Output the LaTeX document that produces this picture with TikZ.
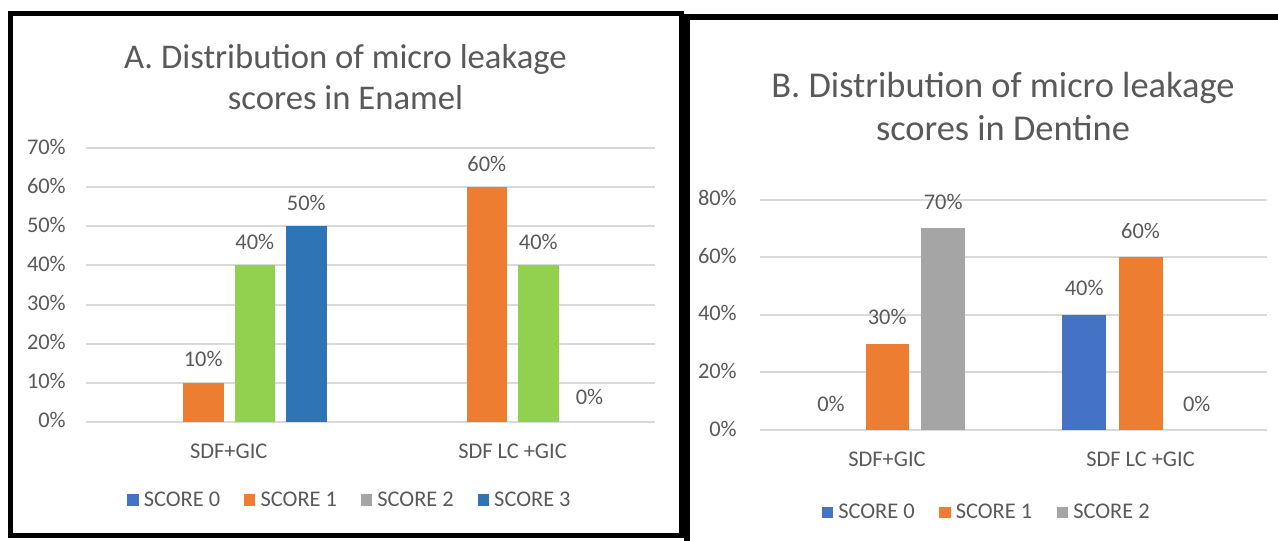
\documentclass[tikz,border=0pt]{standalone}
\usepackage{fontspec}
\setmainfont{Carlito}
\usepackage{tikz}
\usetikzlibrary{positioning}
\definecolor{scorezero}{HTML}{4472C4}
\definecolor{scoreone}{HTML}{ED7D31}
\definecolor{scoretwo}{HTML}{A5A5A5}
\definecolor{scorethree}{HTML}{2E75B6}
\definecolor{scoregreen}{HTML}{92D050}
\definecolor{txtgray}{HTML}{595959}
\definecolor{gridgray}{HTML}{D9D9D9}

\begin{document}
\begin{tikzpicture}[x=0.75pt, y=-0.75pt,
    lbl/.style={font=\fontsize{16.8}{20}\selectfont,
      text=txtgray,
      inner sep=0pt,
      text height=0.91em,
      text depth=0pt},
    ttl/.style={lbl, font=\fontsize{#1}{30}\selectfont, text height=0.64em},
    gridline/.style={draw=gridgray, line width=1.5pt},
    frame/.style={draw=black, line width=#1},
    key/.style={minimum size=8.5pt, inner sep=0pt}]

  \fill[white] (0,0) rectangle (1278,541);
  \useasboundingbox (0,0) rectangle (1278,541);

  % FRAMES

  \draw[frame=4.1pt] (10.5,13.5) rectangle (681.5,535.5);
  \draw[frame=4.5pt] (687,541) -- (687,17) -- (1278,17);

  % CHART A: ENAMEL

  \node[ttl=26] (titlea) at (345.5,64) {A. Distribution of micro leakage};
  \node[ttl=26] (titleasub) at (345.5,105) {scores in Enamel};

  \draw[gridline] (86,421.7) -- (655,421.7);
  \draw[gridline] (86,382.7) -- (655,382.7);
  \draw[gridline] (86,343.6) -- (655,343.6);
  \draw[gridline] (86,304.6) -- (655,304.6);
  \draw[gridline] (86,265.5) -- (655,265.5);
  \draw[gridline] (86,226.5) -- (655,226.5);
  \draw[gridline] (86,187.5) -- (655,187.5);
  \draw[gridline] (86,148.4) -- (655,148.4);

  \node[lbl, anchor=east] (ya0) at (66,421.7) {0\%};
  \node[lbl, anchor=east] (ya10) at (66,382.7) {10\%};
  \node[lbl, anchor=east] (ya20) at (66,343.6) {20\%};
  \node[lbl, anchor=east] (ya30) at (66,304.6) {30\%};
  \node[lbl, anchor=east] (ya40) at (66,265.5) {40\%};
  \node[lbl, anchor=east] (ya50) at (66,226.5) {50\%};
  \node[lbl, anchor=east] (ya60) at (66,187.5) {60\%};
  \node[lbl, anchor=east] (ya70) at (66,148.4) {70\%};

  \fill[scoreone] (183,421.7) rectangle (223.5,382.7);
  \fill[scoregreen] (234.5,421.7) rectangle (275,265.5);
  \fill[scorethree] (286,421.7) rectangle (326.5,226.5);
  \fill[scoreone] (466.5,421.7) rectangle (507,187.5);
  \fill[scoregreen] (518,421.7) rectangle (558.5,265.5);

  \node[lbl] (aonescoreone) at (203.25,360.7) {10\%};
  \node[lbl] (aonescoretwo) at (254.75,243.5) {40\%};
  \node[lbl] (aonescorethree) at (306.25,204.5) {50\%};
  \node[lbl] (atwoscoreone) at (486.75,165.5) {60\%};
  \node[lbl] (atwoscoretwo) at (538.25,243.5) {40\%};
  \node[lbl] (atwoscorethree) at (589.5,398.5) {0\%};

  \node[lbl] (acatone) at (228.75,452) {SDF+GIC};
  \node[lbl] (acattwo) at (512.5,452) {SDF LC +GIC};

  \node[key, fill=scorezero] (akeyzero) at (133,500) {};
  \node[lbl, right=3.5pt of akeyzero] (akeyzerotext) {SCORE 0};
  \node[key, fill=scoreone, right=17.5pt of akeyzerotext] (akeyone) {};
  \node[lbl, right=3.5pt of akeyone] (akeyonetext) {SCORE 1};
  \node[key, fill=scoretwo, right=17.5pt of akeyonetext] (akeytwo) {};
  \node[lbl, right=3.5pt of akeytwo] (akeytwotext) {SCORE 2};
  \node[key, fill=scorethree, right=17.5pt of akeytwotext] (akeythree) {};
  \node[lbl, right=3.5pt of akeythree] (akeythreetext) {SCORE 3};

  % CHART B: DENTINE

  \node[ttl=27.3] (titleb) at (1003,93) {B. Distribution of micro leakage};
  \node[ttl=27.3] (titlebsub) at (1003,136.4) {scores in Dentine};

  \draw[gridline] (760,430) -- (1267,430);
  \draw[gridline] (760,372.4) -- (1267,372.4);
  \draw[gridline] (760,314.8) -- (1267,314.8);
  \draw[gridline] (760,257.2) -- (1267,257.2);
  \draw[gridline] (760,199.6) -- (1267,199.6);

  \node[lbl, anchor=east] (yb0) at (737,430) {0\%};
  \node[lbl, anchor=east] (yb20) at (737,372.4) {20\%};
  \node[lbl, anchor=east] (yb40) at (737,314.8) {40\%};
  \node[lbl, anchor=east] (yb60) at (737,257.2) {60\%};
  \node[lbl, anchor=east] (yb80) at (737,199.6) {80\%};

  \fill[scoreone] (865.5,430) rectangle (909,343.6);
  \fill[scoretwo] (921,430) rectangle (965.3,228.4);
  \fill[scorezero] (1062.3,430) rectangle (1106,314.8);
  \fill[scoreone] (1118.5,430) rectangle (1162.5,257.2);

  \node[lbl] (bonescorezero) at (831,405.5) {0\%};
  \node[lbl] (bonescoreone) at (887.2,318) {30\%};
  \node[lbl] (bonescoretwo) at (943.2,203) {70\%};
  \node[lbl] (btwoscorezero) at (1084.2,289.2) {40\%};
  \node[lbl] (btwoscoreone) at (1140.5,232) {60\%};
  \node[lbl] (btwoscoretwo) at (1196.8,405.5) {0\%};

  \node[lbl] (bcatone) at (887,460) {SDF+GIC};
  \node[lbl] (bcattwo) at (1140.5,460) {SDF LC +GIC};

  \node[key, fill=scorezero] (bkeyzero) at (827.5,512.4) {};
  \node[lbl, right=3.5pt of bkeyzero] (bkeyzerotext) {SCORE 0};
  \node[key, fill=scoreone, right=18pt of bkeyzerotext] (bkeyone) {};
  \node[lbl, right=3.5pt of bkeyone] (bkeyonetext) {SCORE 1};
  \node[key, fill=scoretwo, right=18pt of bkeyonetext] (bkeytwo) {};
  \node[lbl, right=3.5pt of bkeytwo] (bkeytwotext) {SCORE 2};

\end{tikzpicture}
\end{document}
